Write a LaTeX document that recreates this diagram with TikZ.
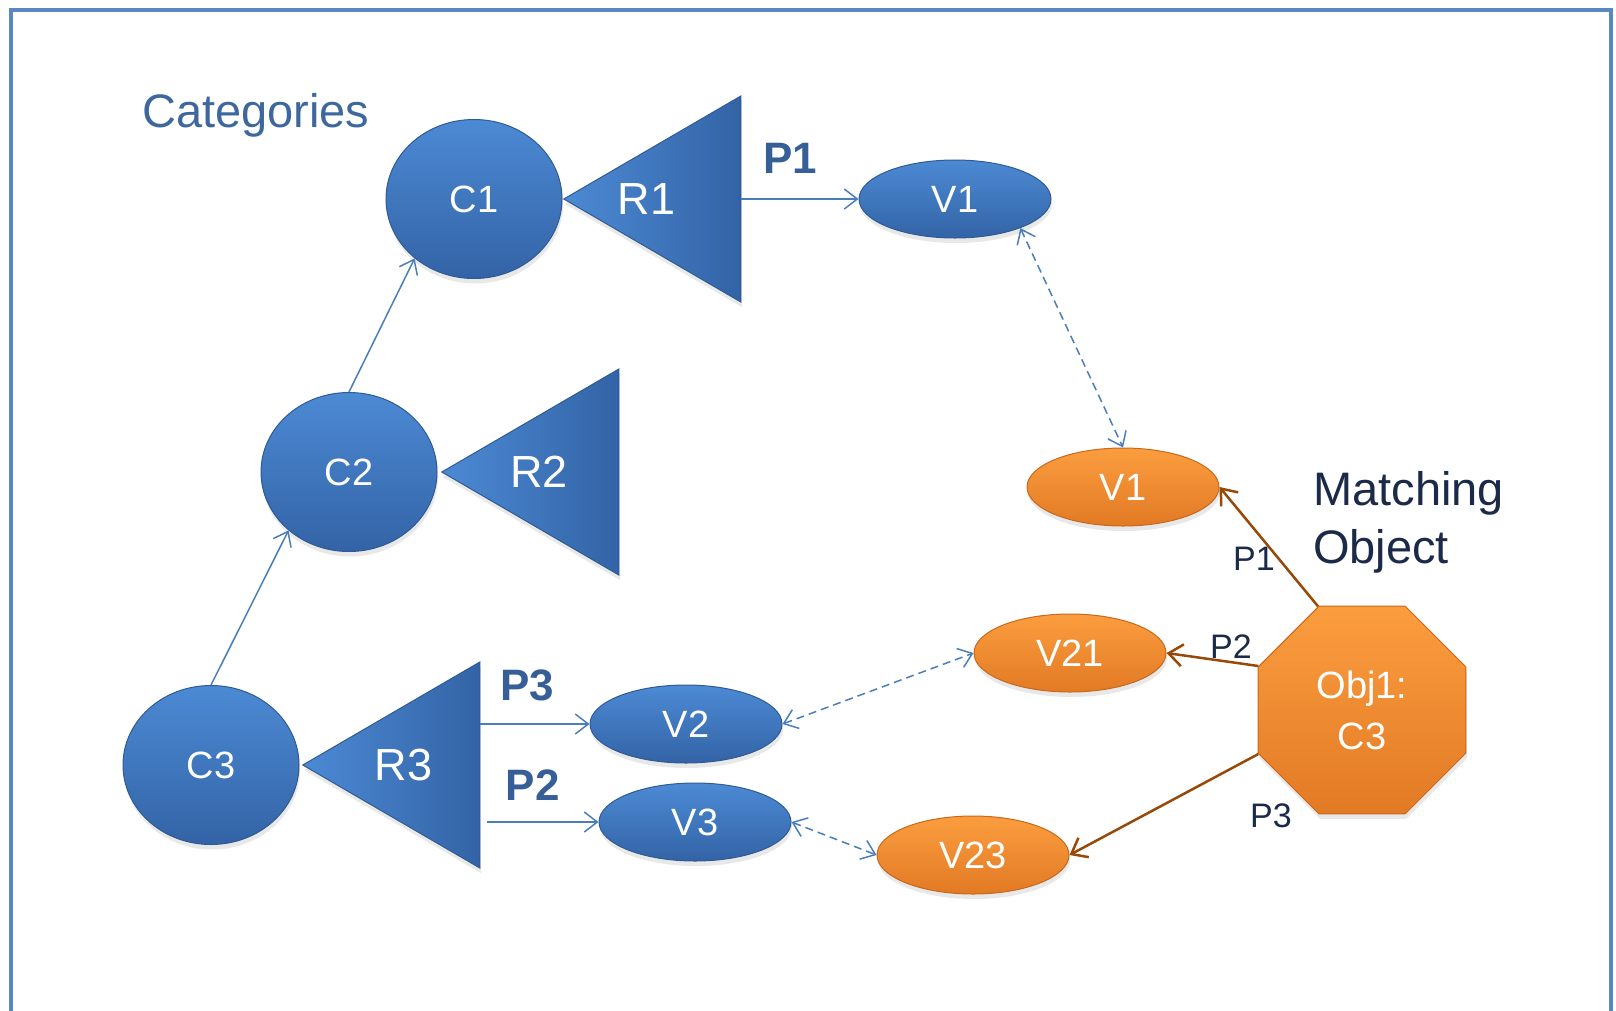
\documentclass[tikz,border=0pt]{standalone}
\usepackage{fontspec}
\setmainfont{Liberation Sans}
\usetikzlibrary{calc,positioning,shapes.geometric,arrows.meta,shadows}

\definecolor{bltop}{HTML}{4C8AD4}
\definecolor{blbot}{HTML}{3363A6}
\definecolor{bledge}{HTML}{2F5B93}
\definecolor{ortop}{HTML}{FB9D3F}
\definecolor{orbot}{HTML}{E27A24}
\definecolor{oredge}{HTML}{C8681C}
\definecolor{blline}{HTML}{4A7EBB}
\definecolor{brline}{HTML}{984807}
\definecolor{frm}{HTML}{5A86C4}
\definecolor{cattxt}{HTML}{3E679E}
\definecolor{navy}{HTML}{1B2A48}
\definecolor{ptxt}{HTML}{375F97}

\tikzset{
    softshadow/.style={drop shadow={shadow xshift=1pt,shadow yshift=-5pt,opacity=.18}},
    blarr/.style={draw=blline,line width=1.5pt,-{Straight Barb[length=13pt,width=20pt]}},
    bldash/.style={draw=blline,line width=1.5pt,dash pattern=on 8pt off 5pt,
        {Straight Barb[length=13pt,width=20pt]}-{Straight Barb[length=13pt,width=20pt]}},
    brarr/.style={draw=brline,line width=2.5pt,-{Straight Barb[length=14pt,width=22pt]}},
    plbl/.style={text=ptxt,font=\bfseries\fontsize{44}{50}\selectfont},
    smlbl/.style={text=navy,font=\fontsize{34}{40}\selectfont},
    trilbl/.style={text=white,font=\fontsize{45}{50}\selectfont}
}

\begin{document}
\begin{tikzpicture}[x=1pt,y=-1pt,every node/.style={inner sep=0pt}]
    \useasboundingbox (0,0) rectangle (1616,1010);
    \draw[frm,line width=4pt] (11,10) rectangle (1611,1060);

    \node[anchor=base west,text=cattxt,font=\fontsize{47}{56}\selectfont] (cat) at (142,127) {Categories};
    \node[anchor=north west,align=left,text=navy,font=\fontsize{47}{58}\selectfont] (match) at (1313,471) {Matching\\Object};

    % categories and their relations
    \begin{scope}[
        every node/.style={ellipse,inner sep=0pt,minimum width=176pt,minimum height=159pt,
            top color=bltop,bottom color=blbot,draw=bledge,line width=1pt,softshadow,
            text=white,font=\fontsize{38}{44}\selectfont}
    ]
        \node (c1) at (474,199) {C1};
        \node (c2) at (349,472) {C2};
        \node (c3) at (211,765) {C3};
    \end{scope}
    \begin{scope}[
        every node/.style={isosceles triangle,isosceles triangle stretches,shape border rotate=180,
            inner sep=0pt,minimum width=206pt,minimum height=177pt,
            left color=bltop,right color=blbot,draw=bledge,line width=1pt,softshadow}
    ]
        \node (r1) [right=0pt of c1] {};
        \node (r2) [right=3pt of c2] {};
        \node (r3) [right=2pt of c3] {};
    \end{scope}
    \node[trilbl] (r1t) at ($(r1.apex)!.47!(r1.lower side)$) {R1};
    \node[trilbl] (r2t) at ($(r2.apex)!.55!(r2.lower side)$) {R2};
    \node[trilbl] (r3t) at ($(r3.apex)!.57!(r3.lower side)$) {R3};

    % values
    \begin{scope}[
        every node/.style={ellipse,inner sep=0pt,minimum width=192pt,minimum height=78pt,
            top color=bltop,bottom color=blbot,draw=bledge,line width=1pt,softshadow,
            text=white,font=\fontsize{38}{44}\selectfont}
    ]
        \node (bv1) at (955,199) {V1};
        \node (bv2) at (686,724) {V2};
        \node (bv3) at (695,822) {V3};
    \end{scope}
    \begin{scope}[
        every node/.style={ellipse,inner sep=0pt,minimum width=192pt,minimum height=78pt,
            top color=ortop,bottom color=orbot,draw=oredge,line width=1pt,softshadow,
            text=white,font=\fontsize{38}{44}\selectfont}
    ]
        \node (ov1)  at (1123,487) {V1};
        \node (ov21) at (1070,653) {V21};
        \node (ov23) at (973,855)  {V23};
    \end{scope}

    \node (obj) [regular polygon,regular polygon sides=8,minimum size=225pt,
        top color=ortop,bottom color=orbot,draw=oredge,line width=1pt,softshadow,
        text=white,align=center,font=\fontsize{38}{51}\selectfont] at (1362,710) {Obj1:\\C3};

    \draw[blarr] (c3.north) -- (c2.224);
    \draw[blarr] (c2.north) -- (c1.225);
    \draw[blarr] (r1.lower side) -- node[plbl,pos=.42,above=25pt] {P1} (bv1.west);
    \draw[blarr] (r3.lower side |- bv2.west) -- node[plbl,pos=.43,above=22pt] {P3} (bv2.west);
    \draw[blarr] ($(r3.lower side |- bv3.west)+(7,0)$) -- node[plbl,pos=.41,above=21pt] {P2} (bv3.west);

    \draw[bldash] (bv1.336) -- (ov1.north);
    \draw[bldash] (bv2.east) -- (ov21.west);
    \draw[bldash] (bv3.east) -- (ov23.west);

    \draw[brarr] (obj.113) -- (ov1.east);
    \draw[brarr] (obj.157) -- (ov21.east);
    \draw[brarr] (obj.203) -- (ov23.east);
    \node[smlbl] (q1) at (1254,559) {P1};
    \node[smlbl] (q2) at (1231,647) {P2};
    \node[smlbl] (q3) at (1271,816) {P3};
\end{tikzpicture}
\end{document}
